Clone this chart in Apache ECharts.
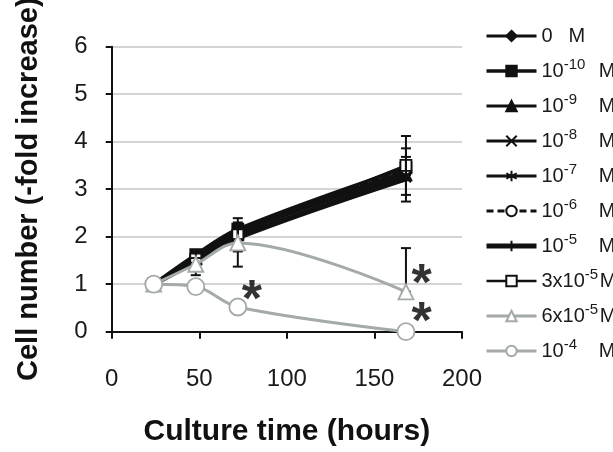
<!DOCTYPE html>
<html>
<head>
<meta charset="utf-8">
<script src="https://cdn.jsdelivr.net/npm/echarts@6/dist/echarts.min.js"></script>
<style>html,body{margin:0;padding:0;background:#fff}#c{width:613px;height:452px}</style>
</head>
<body>
<div id="c"></div>
<script>
// ---- data ----
const times = [24, 48, 72, 168];
const legendBase = ['0', '10', '10', '10', '10', '10', '10', '3x10', '6x10', '10'];
const legendExp  = ['', '-10', '-9', '-8', '-7', '-6', '-5', '-5', '-5', '-4'];
const v0M    = [1, 1.58, 2.12, 3.35];
const v1e10  = [1, 1.62, 2.16, 3.45];
const v1e9   = [1, 1.55, 2.08, 3.30];
const v1e8   = [1, 1.52, 2.02, 3.25];
const v1e7   = [1, 1.56, 2.10, 3.38];
const v1e6   = [1, 1.50, 2.05, 3.42];
const v1e5   = [1, 1.48, 1.98, 3.22];
const v3e5   = [1, 1.53, 2.04, 3.50];
const v6e5   = [1, 1.42, 1.87, 0.84];
const v1e4   = [1, 0.95, 0.52, 0.0];
const errX   = [48, 48, 72, 72, 72, 168, 168, 168, 168];
const errLo  = [1.19, 1.45, 1.37, 1.69, 1.95, 2.74, 2.88, 3.30, 0.84];
const errHi  = [1.55, 1.68, 2.20, 2.39, 2.30, 4.12, 3.86, 3.68, 1.76];
const astX   = [80, 177, 177];
const astY   = [0.88, 1.23, 0.42];
const xTicks = [0, 50, 100, 150, 200];
const yTicks = [0, 1, 2, 3, 4, 5, 6];

const names = legendBase.map((b, i) => b + legendExp[i] + ' M');
const valuesList = [v0M, v1e10, v1e9, v1e8, v1e7, v1e6, v1e5, v3e5, v6e5, v1e4];

const BLACK = '#111';
const GRAY = '#a3aaa7';
const FONT = 'Liberation Sans, Arial, sans-serif';

const pathX = 'path://M0,0L10,10M10,0L0,10';
const pathAst = 'path://M5,0L5,10M0.7,2.5L9.3,7.5M0.7,7.5L9.3,2.5';
const pathBar = 'path://M0,0L0.01,0M5,0L5,10M10,10L10.01,10';

const styles = [
  {symbol: 'diamond', size: 11, color: BLACK, fill: BLACK, width: 3},
  {symbol: 'rect', size: 11, color: BLACK, fill: BLACK, width: 3.5},
  {symbol: 'triangle', size: 11, color: BLACK, fill: BLACK, width: 3},
  {symbol: pathX, size: 10, color: BLACK, fill: 'none', width: 3, stroke: true},
  {symbol: pathAst, size: 11, color: BLACK, fill: 'none', width: 3, stroke: true},
  {symbol: 'circle', size: 10, color: BLACK, fill: '#fff', width: 3, dash: [7, 4]},
  {symbol: pathBar, size: 12, color: BLACK, fill: 'none', width: 5, stroke: true},
  {symbol: 'rect', size: 11, color: BLACK, fill: '#fff', width: 2.5},
  {symbol: 'triangle', size: 15, color: GRAY, fill: '#fff', width: 3},
  {symbol: 'circle', size: 17, color: GRAY, fill: '#fff', width: 3}
];

const lineSeries = names.map((n, i) => {
  const st = styles[i];
  return {
    name: n,
    type: 'line',
    smooth: 0.35,
    data: times.map((t, j) => [t, valuesList[i][j]]),
    symbol: st.symbol,
    symbolSize: st.size,
    showAllSymbol: true,
    z: i >= 8 ? 5 : 3,
    lineStyle: {color: st.color, width: st.width, type: st.dash || 'solid'},
    itemStyle: {color: st.fill === 'none' ? st.color : st.fill, borderColor: st.color, borderWidth: st.stroke ? 2 : 1.8, opacity: 1},
    emphasis: {disabled: true}
  };
});

const errSeries = {
  type: 'custom',
  silent: true,
  z: 4,
  data: errX.map((x, i) => [x, errLo[i], errHi[i]]),
  renderItem: function (params, api) {
    const lo = api.coord([api.value(0), api.value(1)]);
    const hi = api.coord([api.value(0), api.value(2)]);
    const w = 5;
    const s = {stroke: '#111', lineWidth: 2};
    return {
      type: 'group',
      children: [
        {type: 'line', shape: {x1: lo[0], y1: lo[1], x2: hi[0], y2: hi[1]}, style: s},
        {type: 'line', shape: {x1: lo[0] - w, y1: lo[1], x2: lo[0] + w, y2: lo[1]}, style: s},
        {type: 'line', shape: {x1: hi[0] - w, y1: hi[1], x2: hi[0] + w, y2: hi[1]}, style: s}
      ]
    };
  }
};

const astSeries = {
  type: 'scatter',
  silent: true,
  z: 6,
  symbolSize: 1,
  itemStyle: {color: 'rgba(0,0,0,0)'},
  data: astX.map((x, i) => [x, astY[i]]),
  label: {
    show: true, position: 'inside', formatter: '*',
    fontSize: 52, fontWeight: 'bold', color: '#000', fontFamily: FONT,
    offset: [0, 12]
  }
};

const chart = echarts.init(document.getElementById('c'), null, {renderer: 'canvas'});
chart.setOption({
  animation: false,
  backgroundColor: '#fff',
  grid: {left: 111.7, right: 151, top: 46.7, bottom: 120.3, outerBoundsMode: 'none'},
  xAxis: {
    type: 'value', min: 0, max: 200, interval: 50,
    name: 'Culture time (hours)', nameLocation: 'middle', nameGap: 85,
    nameTextStyle: {fontSize: 30, fontWeight: 'bold', color: '#111', fontFamily: FONT},
    axisLine: {lineStyle: {color: '#111', width: 2}},
    axisTick: {show: true, length: 7, lineStyle: {color: '#111', width: 2}},
    axisLabel: {fontSize: 24, color: '#1a1a1a', margin: 36, fontFamily: FONT,
      formatter: v => xTicks.includes(v) ? String(v) : ''},
    splitLine: {show: false}
  },
  yAxis: {
    type: 'value', min: 0, max: 6, interval: 1,
    name: 'Cell number (-fold increase)', nameLocation: 'middle', nameGap: 68,
    nameTextStyle: {fontSize: 29, fontWeight: 'bold', color: '#111', fontFamily: FONT},
    axisLine: {show: true, lineStyle: {color: '#111', width: 2}},
    axisTick: {show: true, length: 6, lineStyle: {color: '#111', width: 2}},
    axisLabel: {fontSize: 24, color: '#1a1a1a', margin: 24, fontFamily: FONT,
      formatter: v => yTicks.includes(v) ? String(v) : ''},
    splitLine: {show: true, lineStyle: {color: '#d4d4d4', width: 2}}
  },
  legend: {
    orient: 'vertical', left: 479, top: 21,
    itemWidth: 50, itemHeight: 13, itemGap: 11,
    data: names,
    selectedMode: false,
    lineStyle: {width: 'inherit'},
    textStyle: {fontFamily: FONT, color: '#1a1a1a', fontSize: 20,
      rich: {
        b: {fontSize: 20, fontFamily: FONT, color: '#1a1a1a', lineHeight: 25},
        s: {fontSize: 15, fontFamily: FONT, color: '#1a1a1a', width: 35, padding: [0, 0, 13, 0]},
        t: {fontSize: 15, fontFamily: FONT, color: '#1a1a1a', width: 15, padding: [0, 0, 13, 0]},
        m: {fontSize: 20, fontFamily: FONT, color: '#1a1a1a', lineHeight: 25},
        z: {fontSize: 20, fontFamily: FONT, color: '#1a1a1a', lineHeight: 25, padding: [0, 0, 0, 16]}
      }
    },
    formatter: function (name) {
      const i = names.indexOf(name);
      if (!legendExp[i]) return '{b|' + legendBase[i] + '}{z|M}';
      const sty = legendBase[i].length > 2 ? 't' : 's';
      return '{b|' + legendBase[i] + '}{' + sty + '|' + legendExp[i] + '}{m|M}';
    }
  },
  series: lineSeries.concat([errSeries, astSeries])
});
</script>
</body>
</html>
